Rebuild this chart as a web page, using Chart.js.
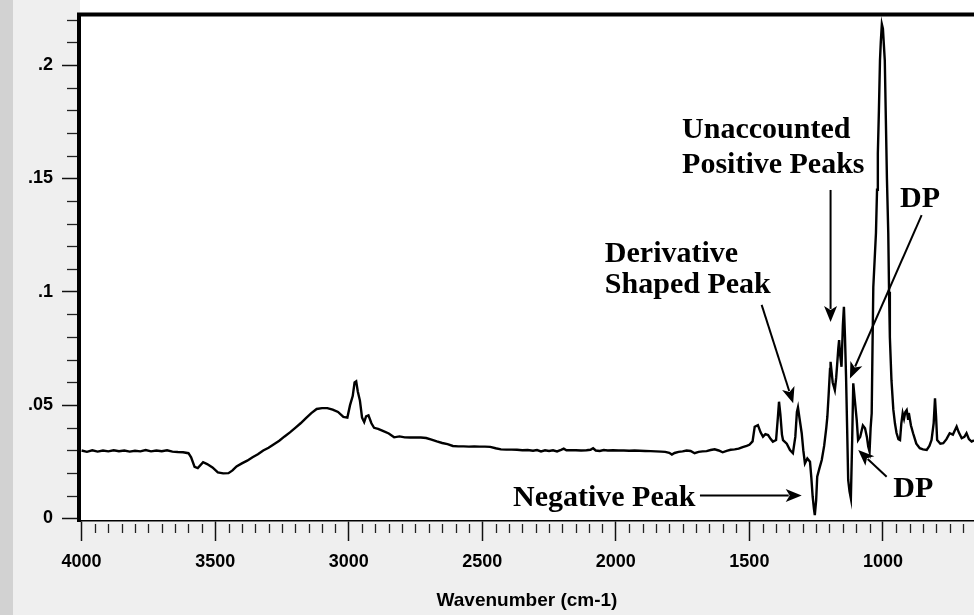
<!DOCTYPE html>
<html>
<head>
<meta charset="utf-8">
<script src="https://cdn.jsdelivr.net/npm/chart.js@4/dist/chart.umd.min.js"></script>
<style>
  html, body { margin: 0; padding: 0; background: #ffffff; }
  #wrap { width: 974px; height: 615px; position: relative; }
</style>
</head>
<body>
<div id="wrap"><canvas id="c" width="974" height="615"></canvas></div>
<script>
// ---------- data ----------
const wavenumbers = [
  4000,3980,3960,3940,3920,3900,3880,3860,3840,3820,3800,3780,3760,3740,3720,3700,3680,3660,3640,3620,
  3600,3590,3577,3565,3545,3530,3510,3490,3470,3450,3435,3420,3400,3380,3360,3340,3320,3300,3280,3260,
  3240,3220,3200,3180,3160,3140,3120,3100,3080,3060,3040,3020,3005,2995,2985,2978,2972,2966,2958,2950,
  2942,2935,2926,2915,2905,2890,2870,2850,2830,2810,2790,2770,2750,2730,2710,2690,2670,2650,2630,2610,
  2590,2570,2550,2530,2510,2490,2470,2450,2430,2410,2390,2370,2350,2330,2310,2295,2280,2265,2250,2235,
  2220,2205,2195,2185,2170,2150,2130,2110,2095,2085,2075,2060,2045,2030,2010,1990,1970,1950,1930,1910,
  1890,1870,1850,1830,1815,1800,1790,1780,1765,1750,1735,1720,1705,1690,1675,1660,1645,1630,1615,1600,
  1585,1570,1555,1540,1525,1510,1500,1488,1480,1468,1458,1449,1440,1430,1420,1412,1400,1393,1389,1384,
  1378,1374,1360,1348,1337,1328,1322,1318,1312,1304,1298,1292,1283,1273,1268,1263,1258,1255,1250,1246,
  1238,1229,1220,1212,1208,1203,1198,1196,1188,1180,1175,1171,1167,1164,1160,1155,1150,1146,1142,1138,
  1134,1130,1125,1120,1115,1111,1105,1098,1093,1085,1075,1067,1060,1055,1050,1046,1042,1039,1036,1031,
  1026,1022,1019,1015,1011,1008,1004,1000,996,993,989,985,980,977,974,968,961,955,949,942,
  936,931,926,921,916,911,906,903,895,887,875,862,850,836,826,818,810,805,801,797,
  785,774,762,750,738,730,724,716,705,695,687,678,668,659
];
const absorbance = [
  0.0300,0.0294,0.0301,0.0295,0.0300,0.0296,0.0301,0.0297,0.0300,0.0295,0.0299,0.0296,0.0302,0.0296,0.0300,0.0297,0.0301,0.0295,0.0293,0.0292,
  0.0288,0.0270,0.0228,0.0222,0.0248,0.0240,0.0225,0.0203,0.0199,0.0200,0.0212,0.0230,0.0243,0.0255,0.0270,0.0283,0.0300,0.0312,0.0328,0.0343,
  0.0362,0.0380,0.0400,0.0420,0.0443,0.0465,0.0483,0.0487,0.0487,0.0480,0.0470,0.0448,0.0445,0.0500,0.0540,0.0600,0.0605,0.0560,0.0520,0.0445,
  0.0425,0.0450,0.0455,0.0420,0.0400,0.0395,0.0385,0.0375,0.0358,0.0362,0.0358,0.0357,0.0358,0.0357,0.0355,0.0348,0.0340,0.0333,0.0328,0.0320,
  0.0318,0.0318,0.0317,0.0318,0.0317,0.0317,0.0316,0.0310,0.0305,0.0304,0.0304,0.0303,0.0301,0.0302,0.0299,0.0302,0.0296,0.0301,0.0298,0.0301,
  0.0296,0.0303,0.0308,0.0301,0.0301,0.0301,0.0300,0.0301,0.0303,0.0310,0.0300,0.0298,0.0302,0.0300,0.0301,0.0300,0.0300,0.0299,0.0300,0.0299,
  0.0298,0.0297,0.0296,0.0295,0.0294,0.0290,0.0282,0.0289,0.0294,0.0296,0.0300,0.0298,0.0288,0.0294,0.0296,0.0297,0.0302,0.0305,0.0300,0.0292,
  0.0298,0.0303,0.0305,0.0308,0.0315,0.0320,0.0325,0.0340,0.0405,0.0412,0.0380,0.0361,0.0372,0.0368,0.0350,0.0339,0.0346,0.0450,0.0515,0.0460,
  0.0370,0.0346,0.0330,0.0302,0.0288,0.0360,0.0470,0.0490,0.0440,0.0376,0.0300,0.0243,0.0265,0.0250,0.0180,0.0096,0.0040,0.0015,0.0080,0.0184,
  0.0220,0.0258,0.0320,0.0400,0.0449,0.0550,0.0660,0.0691,0.0600,0.0567,0.0620,0.0684,0.0750,0.0787,0.0720,0.0669,0.0850,0.0934,0.0800,0.0625,
  0.0400,0.0170,0.0120,0.0089,0.0350,0.0596,0.0520,0.0434,0.0346,0.0360,0.0410,0.0398,0.0360,0.0317,0.0295,0.0400,0.0464,0.0750,0.1020,0.1140,
  0.1260,0.1450,0.1610,0.1800,0.2020,0.2100,0.2180,0.2160,0.2080,0.2020,0.1760,0.1500,0.1260,0.1000,0.0800,0.0610,0.0480,0.0420,0.0377,0.0350,
  0.0346,0.0420,0.0464,0.0440,0.0470,0.0478,0.0440,0.0465,0.0410,0.0376,0.0330,0.0310,0.0305,0.0302,0.0320,0.0346,0.0420,0.0530,0.0450,0.0346,
  0.0330,0.0332,0.0350,0.0376,0.0370,0.0390,0.0405,0.0380,0.0354,0.0360,0.0376,0.0350,0.0339,0.0345
];
const xTickLabels = [4000, 3500, 3000, 2500, 2000, 1500, 1000];
const yTickLabels = ['0', '.05', '.1', '.15', '.2'];
const xTitle = 'Wavenumber (cm-1)';

// annotation texts (anchored in data coordinates: wavenumber, absorbance)
const noteTexts = ['Unaccounted', 'Positive Peaks', 'Derivative', 'Shaped Peak', 'DP', 'Negative Peak', 'DP'];
const noteWn    = [1752, 1752, 2041, 2041, 936, 2385, 961];
const noteAbs   = [0.1678, 0.1524, 0.1131, 0.0994, 0.1374, 0.0055, 0.0095];
// arrows: start (wn, abs) -> tip (wn, abs)
const arrowFromWn  = [1196, 855, 1454, 1685, 986];
const arrowFromAbs = [0.1449, 0.1338, 0.0942, 0.0101, 0.0184];
const arrowToWn    = [1196, 1123.5, 1336, 1304, 1092.5];
const arrowToAbs   = [0.0867, 0.0618, 0.0508, 0.0101, 0.0302];

// ---------- chart ----------
const points = wavenumbers.map((w, i) => ({ x: w, y: absorbance[i] }));

const bgPlugin = {
  id: 'bg',
  beforeDraw(chart) {
    const { ctx, chartArea: a, width, height } = chart;
    ctx.save();
    ctx.fillStyle = '#efefef';
    ctx.fillRect(0, 0, width, height);
    ctx.fillStyle = '#d2d2d2';
    ctx.fillRect(0, 0, 13, height);
    ctx.fillStyle = '#ffffff';
    ctx.fillRect(a.left, 0, width - a.left, a.bottom);
    ctx.restore();
  }
};

const decoPlugin = {
  id: 'deco',
  afterDraw(chart) {
    const { ctx, chartArea: a } = chart;
    const xs = chart.scales.x, ys = chart.scales.y;
    ctx.save();
    // minor ticks x
    ctx.strokeStyle = '#222';
    ctx.lineWidth = 1.3;
    for (let w = 700; w <= 4000; w += 50) {
      if (w % 500 === 0) continue;
      const px = Math.round(xs.getPixelForValue(w)) + 0.5;
      if (px > a.right) continue;
      ctx.beginPath(); ctx.moveTo(px, a.bottom + 3); ctx.lineTo(px, a.bottom + 12); ctx.stroke();
    }
    // minor ticks y
    for (let k = 1; k <= 22; k++) {
      if (k % 5 === 0) continue;
      const py = Math.round(ys.getPixelForValue(k / 100)) + 0.5;
      ctx.beginPath(); ctx.moveTo(a.left - 13, py); ctx.lineTo(a.left, py); ctx.stroke();
    }
    // frame: thick top and left
    ctx.strokeStyle = '#000';
    ctx.lineWidth = 4;
    ctx.beginPath();
    ctx.moveTo(a.left - 1, a.bottom + 1);
    ctx.lineTo(a.left - 1, a.top + 0.5);
    ctx.lineTo(a.right + 2, a.top + 0.5);
    ctx.stroke();

    // annotations
    ctx.fillStyle = '#000';
    ctx.font = 'bold 30px "Liberation Serif", "Times New Roman", serif';
    ctx.textAlign = 'left';
    ctx.textBaseline = 'alphabetic';
    noteTexts.forEach((t, i) => {
      ctx.fillText(t, xs.getPixelForValue(noteWn[i]), ys.getPixelForValue(noteAbs[i]));
    });
    ctx.strokeStyle = '#000';
    ctx.lineWidth = 2;
    for (let i = 0; i < arrowFromWn.length; i++) {
      const x1 = xs.getPixelForValue(arrowFromWn[i]), y1 = ys.getPixelForValue(arrowFromAbs[i]);
      const x2 = xs.getPixelForValue(arrowToWn[i]), y2 = ys.getPixelForValue(arrowToAbs[i]);
      const ang = Math.atan2(y2 - y1, x2 - x1);
      const L = 16, W = 6.5;
      const bx = x2 - L * Math.cos(ang), by = y2 - L * Math.sin(ang);
      ctx.beginPath(); ctx.moveTo(x1, y1); ctx.lineTo(bx + 3 * Math.cos(ang), by + 3 * Math.sin(ang)); ctx.stroke();
      ctx.beginPath();
      ctx.moveTo(x2, y2);
      ctx.lineTo(bx - W * Math.sin(ang), by + W * Math.cos(ang));
      ctx.lineTo(x2 - (L - 4) * Math.cos(ang), y2 - (L - 4) * Math.sin(ang));
      ctx.lineTo(bx + W * Math.sin(ang), by - W * Math.cos(ang));
      ctx.closePath();
      ctx.fill();
    }
    ctx.restore();
  }
};

new Chart(document.getElementById('c'), {
  type: 'scatter',
  data: {
    datasets: [{
      data: points,
      showLine: true,
      borderColor: '#000',
      borderWidth: 2.4,
      pointRadius: 0,
      tension: 0,
      fill: false
    }]
  },
  options: {
    responsive: false,
    maintainAspectRatio: false,
    animation: false,
    layout: { padding: { top: 14, right: 0, left: 0, bottom: 0 } },
    plugins: { legend: { display: false }, tooltip: { enabled: false } },
    scales: {
      x: {
        type: 'linear',
        reverse: true,
        min: 659,
        max: 4006,
        afterFit(s) { s.height = 94; s.paddingLeft = 0; s.paddingRight = 0; },
        afterBuildTicks(s) { s.ticks = xTickLabels.map(v => ({ value: v })); },
        ticks: {
          autoSkip: false,
          maxRotation: 0,
          padding: 10,
          color: '#000',
          font: { family: '"Liberation Sans", Arial, sans-serif', size: 18, weight: 'bold' },
          callback: (v) => String(v)
        },
        grid: { display: true, drawOnChartArea: false, drawTicks: true, tickLength: 20, tickColor: '#111', tickWidth: 1.5 },
        border: { display: true, color: '#000', width: 1.5 },
        title: {
          display: true,
          text: xTitle,
          color: '#000',
          font: { family: '"Liberation Sans", Arial, sans-serif', size: 19, weight: 'bold' },
          padding: { top: 0, bottom: 3 }
        }
      },
      y: {
        type: 'linear',
        min: -0.0011,
        max: 0.2225,
        afterFit(s) { s.width = 80; s.paddingTop = 0; s.paddingBottom = 0; },
        afterBuildTicks(s) { s.ticks = yTickLabels.map(t => ({ value: parseFloat(t) })); },
        ticks: {
          padding: 9,
          color: '#000',
          font: { family: '"Liberation Sans", Arial, sans-serif', size: 18, weight: 'bold' },
          callback: (v, i) => yTickLabels[i]
        },
        grid: { display: true, drawOnChartArea: false, drawTicks: true, tickLength: 18, tickColor: '#111', tickWidth: 1.5 },
        border: { display: false }
      }
    }
  },
  plugins: [bgPlugin, decoPlugin]
});
</script>
</body>
</html>
